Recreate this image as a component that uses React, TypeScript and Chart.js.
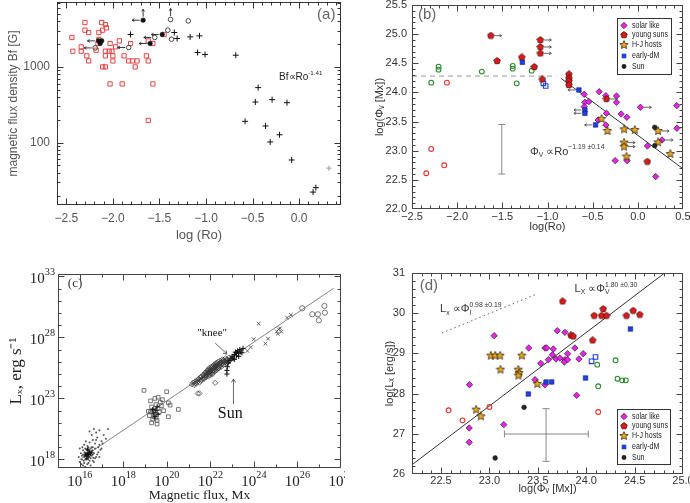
import React, { useEffect, useRef } from 'react';
import { Chart, registerables } from 'chart.js';

Chart.register(...registerables);

type P = [number, number];

// ================= Panel (a): log(Ro) vs magnetic flux density Bf [G] =================
const aXTicks = [-2.5, -2.0, -1.5, -1.0, -0.5, 0.0];
const aYTicks = [100, 1000];
const aRedSquares: P[] = [
  [-2.44, 2445], [-2.43, 1611], [-2.34, 1841], [-2.34, 1611], [-2.30, 3855], [-2.30, 3055], [-2.26, 2845],
  [-2.28, 1399], [-2.26, 1200], [-2.15, 2845], [-2.12, 3855], [-2.11, 3055], [-2.08, 3630], [-2.07, 3280],
  [-2.15, 2300], [-2.16, 2037], [-2.18, 1660], [-2.11, 1000], [-2.08, 1000], [-2.08, 1611], [-2.08, 1399],
  [-2.04, 1611], [-2.03, 2037], [-2.01, 1611], [-2.00, 1399], [-2.00, 1200], [-1.97, 1841], [-1.93, 2208],
  [-1.88, 1399], [-1.83, 1200], [-1.81, 2037], [-1.79, 1200], [-1.76, 1000], [-1.74, 1200], [-2.03, 596],
  [-1.90, 596], [-1.57, 596], [-1.62, 197], [-1.64, 1399], [-1.62, 1200], [-1.62, 2208], [-1.57, 2037],
  [-1.45, 2680],
];
const aPlus: P[] = [
  [-1.81, 2680], [-1.34, 2845], [-1.31, 2371], [-1.17, 2494], [-1.07, 2571], [-1.09, 1549], [-1.01, 1456],
  [-0.68, 1426], [-0.44, 533], [-0.47, 344], [-0.29, 370], [-0.13, 337], [-0.58, 191], [-0.36, 166],
  [-0.31, 102], [-0.21, 127], [-0.08, 59], [0.15, 22.2], [0.18, 25.4],
];
const aPlusFaint: P[] = [[0.32, 46]];
const aOpenCircles: P[] = [
  [-1.38, 4230], [-1.19, 4055], [-1.41, 3055], [-1.37, 2323], [-1.55, 2450], [-1.83, 1803], [-2.19, 1782],
];
const aFilledCircles: P[] = [
  [-1.675, 4140], [-2.155, 2208], [-2.12, 2208], [-2.137, 2037], [-1.60, 2037], [-1.47, 2680],
];
const aArrowLeft: P[] = [
  [-1.675, 4140], [-2.155, 2208], [-1.60, 2037], [-1.47, 2680], [-1.55, 2450], [-1.83, 1803], [-2.19, 1782],
];
const aArrowUp: P[] = [[-1.675, 4140], [-1.38, 4230]];

// ================= Panel (b): log(Ro) vs log(Phi_V) =================
const bXTicks = [-2.5, -2.0, -1.5, -1.0, -0.5, 0.0, 0.5];
const bYTicks = [22.0, 22.5, 23.0, 23.5, 24.0, 24.5, 25.0, 25.5];
const bSolar: P[] = [
  [-0.594, 23.968], [-0.586, 23.83], [-0.542, 23.842], [-0.594, 23.756], [-0.428, 24.013], [-0.354, 23.945],
  [-0.236, 23.939], [-0.236, 23.83], [-0.347, 23.642], [-0.439, 23.527], [-0.354, 23.442], [-0.185, 23.63],
  [-0.122, 23.573], [0.029, 23.745], [0.43, 23.773], [0.433, 23.385], [0.106, 23.082], [0.268, 23.184],
  [0.198, 22.556], [-0.251, 22.83], [-0.119, 22.83],
];
const bYoung: P[] = [
  [-1.628, 24.974], [-1.558, 24.54], [-1.285, 24.602], [-1.146, 24.437], [-1.079, 24.9], [-1.079, 24.78],
  [-1.079, 24.671], [-1.057, 24.225], [-0.763, 24.311], [-0.763, 24.242], [-0.763, 24.196], [-0.763, 24.128],
  [-0.347, 23.888], [0.106, 22.813],
];
const bHJ: P[] = [
  [-0.402, 23.545], [-0.336, 23.339], [-0.152, 23.367], [-0.034, 23.356], [-0.152, 23.139], [-0.152, 23.07],
  [-0.126, 22.899], [0.224, 23.339], [0.224, 23.144], [0.36, 22.944],
];
const bEarlyDM: P[] = [[-1.278, 24.517], [-0.652, 24.042], [-0.586, 23.699], [-0.586, 23.642], [-0.468, 23.442]];
const bEarlyDMOpen: P[] = [[-1.046, 24.156], [-1.02, 24.111]];
const bSun: P[] = [[0.187, 23.402], [0.187, 23.087]];
const bGreen: P[] = [
  [-2.206, 24.442], [-2.206, 24.391], [-2.287, 24.168], [-1.727, 24.357], [-1.385, 24.454], [-1.385, 24.408],
  [-1.341, 24.156], [-1.175, 24.374],
];
const bRedOpen: P[] = [[-2.114, 24.168], [-2.287, 23.03], [-2.143, 22.75], [-2.342, 22.613]];
const bArrowRight: P[] = [
  [-1.628, 24.974], [-1.079, 24.9], [-1.079, 24.78], [-1.079, 24.671], [-0.347, 23.888], [0.029, 23.745],
  [0.224, 23.339], [0.268, 23.184], [-0.152, 23.139], [-0.152, 23.07],
];
const bArrowLeft: P[] = [[-0.652, 24.042], [-0.586, 23.699], [-0.586, 23.642], [-0.468, 23.442]];
const bDashX = [-2.5, -0.9];
const bDashY = [24.28, 24.28];
const bFitX = [-0.85, 0.5];
const bFitY = [24.24, 22.69];
const bErr = { x: -1.506, low: 22.6, high: 23.45 };

// ================= Panel (c): magnetic flux vs Lx (exponents of 10) =================
const cXTicks = [16, 18, 20, 22, 24, 26, 28];
const cYTicks = [18, 23, 28, 33];
const cDots: P[] = [
  [16.0, 17.8], [16.1, 18.0], [16.15, 18.4], [16.2, 17.7], [16.2, 18.2], [16.25, 18.9], [16.3, 18.0], [16.3, 18.5],
  [16.35, 17.6], [16.35, 19.1], [16.4, 18.3], [16.4, 18.8], [16.45, 17.9], [16.45, 19.4], [16.5, 18.6], [16.5, 18.1],
  [16.55, 19.0], [16.6, 18.4], [16.6, 19.6], [16.65, 17.8], [16.7, 18.9], [16.7, 19.3], [16.75, 18.2], [16.8, 19.8],
  [16.85, 18.6], [16.9, 19.2], [17.0, 19.5], [17.1, 20.0], [16.05, 18.5], [16.12, 19.0], [16.28, 19.5], [16.38, 18.0],
  [16.42, 18.55], [16.33, 18.75], [16.48, 18.35], [16.22, 18.6], [16.58, 18.75], [16.18, 17.9], [16.62, 18.15],
  [16.95, 18.8], [16.75, 20.2], [16.55, 20.0], [15.95, 18.2], [16.3, 17.3], [16.5, 17.5],
  [16.1, 18.3], [16.15, 17.5], [16.2, 19.2], [16.25, 18.0], [16.3, 18.8], [16.35, 18.3], [16.4, 17.7], [16.4, 19.0],
  [16.45, 18.2], [16.5, 18.9], [16.55, 18.3], [16.6, 17.9], [16.6, 19.0], [16.65, 18.5], [16.7, 18.1], [16.75, 19.6],
  [16.8, 18.4], [16.85, 19.0], [16.9, 18.2], [17.0, 18.9], [17.05, 19.3], [17.2, 19.7], [16.0, 18.9], [16.08, 17.6],
  [16.25, 17.4], [16.45, 20.3], [16.65, 20.5], [16.9, 20.4], [17.3, 20.5], [16.15, 18.75],
];
const cDotsCore: P[] = [
  [16.3, 18.3], [16.35, 18.5], [16.4, 18.4], [16.45, 18.6], [16.38, 18.2], [16.28, 18.45], [16.5, 18.45],
  [16.42, 18.7], [16.32, 18.1], [16.25, 18.35], [16.55, 18.6], [16.36, 18.85],
];
const cSquares: P[] = [
  [18.95, 23.66], [19.99, 23.55], [20.53, 22.1], [20.07, 21.5], [20.07, 22.64], [20.15, 22.45], [19.2, 21.6],
  [19.25, 21.9], [19.3, 22.3], [19.35, 21.3], [19.4, 22.0], [19.45, 21.7], [19.5, 22.5], [19.55, 21.2],
  [19.6, 22.2], [19.65, 21.9], [19.7, 22.7], [19.3, 21.0], [19.45, 23.0], [19.6, 23.1], [19.75, 22.4],
  [19.4, 21.5], [19.55, 20.9], [19.8, 22.9], [19.25, 22.8], [19.5, 21.4], [19.85, 22.0], [19.15, 21.95],
];
const cSquareMarks: P[] = [[19.4, 21.8], [19.5, 22.0], [19.45, 21.5], [19.55, 22.3], [19.6, 21.7], [19.35, 22.1]];
const cDiamonds: P[] = [
  [21.15, 24.15], [21.25, 24.1], [21.3, 24.4], [21.4, 24.35], [21.45, 24.6], [21.5, 24.3], [21.55, 24.75],
  [21.6, 24.5], [21.65, 24.9], [21.7, 24.6], [21.75, 25.1], [21.75, 24.7], [21.8, 24.9], [21.85, 25.3],
  [21.9, 24.8], [21.9, 25.1], [21.95, 25.5], [22.0, 24.9], [22.0, 25.25], [22.05, 25.6], [22.1, 25.0],
  [22.1, 25.4], [22.15, 25.75], [22.2, 25.2], [22.2, 25.55], [22.25, 25.9], [22.3, 25.35], [22.3, 25.7],
  [22.35, 26.0], [22.4, 25.5], [22.4, 25.85], [22.45, 26.1], [22.5, 25.6], [22.5, 25.95], [22.55, 26.2],
  [22.6, 25.75], [22.65, 26.05], [22.7, 26.3], [22.75, 25.9], [22.8, 26.15], [22.85, 26.35], [22.9, 26.1],
  [21.35, 24.2], [21.95, 25.15], [22.15, 25.3], [22.35, 25.45], [22.6, 26.0], [22.05, 25.05], [21.85, 24.95],
  [22.25, 25.6], [21.42, 23.41], [21.5, 23.41], [22.22, 24.28],
  [21.2, 24.3], [21.3, 24.25], [21.4, 24.5], [21.5, 24.55], [21.55, 24.45], [21.6, 24.8], [21.65, 24.65],
  [21.7, 24.95], [21.75, 24.85], [21.8, 25.15], [21.8, 24.75], [21.85, 25.1], [21.9, 25.35], [21.95, 24.95],
  [22.0, 25.4], [22.0, 25.1], [22.05, 25.3], [22.1, 25.6], [22.1, 25.2], [22.15, 25.5], [22.2, 25.7],
  [22.2, 25.4], [22.25, 25.3], [22.3, 25.55], [22.3, 25.9], [22.35, 25.75], [22.4, 25.65], [22.45, 25.95],
  [22.45, 25.7], [22.5, 25.8], [22.55, 26.05], [22.55, 25.85], [22.6, 26.15], [22.65, 25.95], [22.7, 26.1],
  [22.75, 26.2], [22.8, 26.0], [21.9, 25.25], [22.05, 25.45], [22.25, 25.75],
];
const cPlus: P[] = [
  [22.76, 25.0], [22.76, 25.3], [22.78, 25.6], [22.82, 25.9], [22.9, 26.1], [22.95, 26.3], [23.0, 26.45],
  [23.05, 26.3], [23.1, 26.6], [23.15, 26.8], [23.2, 26.5], [23.25, 26.9], [23.3, 26.7], [23.35, 27.0],
  [23.4, 26.8], [23.45, 26.75], [23.1, 26.2], [23.2, 26.75], [23.3, 26.45], [23.5, 27.1],
];
const cCross: P[] = [
  [24.22, 29.13], [23.99, 27.85], [24.53, 27.49], [24.65, 27.9], [25.05, 28.5], [25.14, 28.67], [25.26, 28.47],
  [25.2, 28.75], [25.52, 29.62], [25.7, 29.85], [23.7, 26.9], [23.85, 27.2], [25.1, 28.3],
];
const cCircles: P[] = [[26.22, 30.39], [26.68, 29.9], [26.94, 29.9], [26.98, 29.4], [27.24, 30.58], [27.26, 30.03]];
const cFitX = [16.0, 27.67];
const cFitY = [17.99, 32.04];

// ================= Panel (d): log(Phi_V) vs log(Lx) =================
const dXTicks = [22.5, 23.0, 23.5, 24.0, 24.5, 25.0];
const dYTicks = [26, 27, 28, 29, 30, 31];
const dSolar: P[] = [
  [23.049, 29.441], [22.794, 28.222], [22.791, 27.144], [22.791, 26.788], [23.148, 27.227], [23.406, 29.134],
  [23.53, 28.753], [23.471, 28.347], [23.574, 29.134], [23.591, 29.134], [23.574, 28.222], [23.609, 28.844],
  [23.66, 29.109], [23.65, 28.968], [23.688, 28.861], [23.701, 29.565], [23.729, 28.886], [23.78, 29.524],
  [23.78, 28.844], [23.774, 28.786], [23.808, 28.993], [23.808, 28.844], [23.883, 29.134], [23.901, 27.957],
  [23.925, 28.861], [23.969, 28.993],
];
const dYoung: P[] = [
  [23.756, 30.295], [24.083, 29.939], [24.176, 30.104], [24.158, 29.939], [24.21, 29.939], [24.416, 29.939],
  [24.485, 30.063], [24.553, 29.963], [23.842, 29.449], [23.866, 29.424], [24.066, 29.325],
];
const dHJ: P[] = [
  [23.014, 28.944], [23.059, 28.944], [23.11, 28.944], [23.334, 28.944], [23.114, 28.595], [23.299, 28.595],
  [23.306, 28.512], [23.299, 28.446], [23.495, 28.239], [22.863, 27.6], [22.911, 27.434],
];
const dEarlyDM: P[] = [[23.402, 27.99], [23.585, 28.289], [23.643, 28.289], [23.993, 28.388], [24.457, 29.607]];
const dEarlyDMOpen: P[] = [[24.055, 28.803], [24.096, 28.91]];
const dGreen: P[] = [[24.114, 28.72], [24.124, 28.181], [24.303, 28.828], [24.323, 28.371], [24.371, 28.33], [24.409, 28.33]];
const dRedOpen: P[] = [[22.578, 27.584], [22.722, 27.335], [23.0, 27.667], [24.124, 27.542]];
const dSun: P[] = [[23.358, 27.658], [23.059, 26.398]];
const dFitX = [22.2, 24.81];
const dFitY = [26.23, 31.0];
const dDotX = [22.509, 23.488];
const dDotY = [29.507, 30.478];
const dErr = { cx: 23.585, cy: 26.995, xLow: 23.155, xHigh: 24.021, yLow: 26.315, yHigh: 27.625 };

const legendLabels = ['solar like', 'young suns', 'H-J hosts', 'early-dM', 'Sun'];

// ================= styling / helpers =================
const SANS = "'Liberation Sans', Arial, sans-serif";
const SERIF = "'Liberation Serif', 'Times New Roman', serif";
const MAGENTA = '#f020f0';
const RED = '#e41818';
const GOLD = '#eaa820';
const BLUE = '#2040e0';
const GREEN = '#2a8a2a';
const NONE = 'rgba(0,0,0,0)';

function makeShape(kind: string, size: number, fill: string, stroke: string) {
  const c = document.createElement('canvas');
  c.width = size; c.height = size;
  const g = c.getContext('2d')!;
  const cx = size / 2, cy = size / 2, R = size / 2 - 0.6;
  g.beginPath();
  const n = kind === 'pentagon' ? 5 : 10;
  for (let i = 0; i < n; i++) {
    const a = -Math.PI / 2 + (i * 2 * Math.PI) / n;
    const r = kind === 'pentagon' ? R : i % 2 === 0 ? R : R * 0.45;
    const x = cx + r * Math.cos(a), y = cy + r * Math.sin(a);
    if (i === 0) g.moveTo(x, y); else g.lineTo(x, y);
  }
  g.closePath();
  g.fillStyle = fill; g.fill();
  g.lineWidth = 0.8; g.strokeStyle = stroke; g.stroke();
  return c;
}
const pentImg = makeShape('pentagon', 8, RED, '#401010');
const starImg = makeShape('star', 10, GOLD, '#3a2a10');

const steps = (a: number, b: number, s: number) => {
  const out: number[] = [];
  for (let v = a; v <= b + 1e-9; v += s) out.push(+v.toFixed(4));
  return out;
};
const logMinor = (() => {
  const out: number[] = [];
  [10, 100, 1000].forEach((d) => { for (let k = 2; k <= 9; k++) out.push(k * d); });
  return out;
})();
const fmtSigned = (v: number) => (v < 0 ? '−' : '') + Math.abs(v).toFixed(1);

const pts = (a: P[]) => a.map(([x, y]) => ({ x, y }));
const lineData = (xs: number[], ys: number[]) => xs.map((x, i) => ({ x, y: ys[i] }));

function ds(data: any[], o: any) {
  return { data, pointHoverRadius: o.pointRadius, ...o };
}
function lineDs(data: any[], o: any) {
  return { data, showLine: true, pointRadius: 0, fill: false, borderWidth: 1, ...o };
}

function axis(o: any) {
  return {
    type: o.type || 'linear',
    position: o.position,
    min: o.min,
    max: o.max,
    grid: { display: false, drawTicks: false },
    border: { display: false },
    afterBuildTicks: (s: any) => { s.ticks = o.ticks.map((v: number) => ({ value: v })); },
    afterFit: (s: any) => {
      if (o.position === 'bottom') s.height = o.size; else s.width = o.size;
      s.paddingLeft = 0; s.paddingRight = 0; s.paddingTop = 0; s.paddingBottom = 0;
    },
    ticks: {
      display: o.showTicks !== false,
      autoSkip: false, maxRotation: 0, minRotation: 0, padding: o.pad,
      font: o.font, color: o.color, callback: (v: any) => o.fmt(Number(v)),
    },
    title: { display: true, text: o.title, font: o.titleFont, color: o.titleColor || o.color, padding: o.titlePad },
  };
}

function baseOptions(padding: any, x: any, y: any) {
  return {
    animation: false,
    responsive: false,
    devicePixelRatio: 1,
    events: [],
    layout: { padding, autoPadding: false },
    plugins: { legend: { display: false }, tooltip: { enabled: false }, title: { display: false } },
    scales: { x, y },
  };
}

function frame(ctx: any, chart: any, o: any) {
  const a = chart.chartArea;
  const X = chart.scales.x, Y = chart.scales.y;
  const l = Math.round(a.left) + 0.5, r = Math.round(a.right) - 0.5;
  const t = Math.round(a.top) + 0.5, b = Math.round(a.bottom) - 0.5;
  ctx.strokeStyle = o.color; ctx.lineWidth = 1;
  ctx.strokeRect(l, t, r - l, b - t);
  ctx.beginPath();
  const xt = (vals: number[], len: number) => vals.forEach((v) => {
    const p = Math.round(X.getPixelForValue(v)) + 0.5;
    if (p < l || p > r) return;
    ctx.moveTo(p, b); ctx.lineTo(p, b - len); ctx.moveTo(p, t); ctx.lineTo(p, t + len);
  });
  const yt = (vals: number[], len: number) => vals.forEach((v) => {
    const p = Math.round(Y.getPixelForValue(v)) + 0.5;
    if (p < t || p > b) return;
    ctx.moveTo(l, p); ctx.lineTo(l + len, p); ctx.moveTo(r, p); ctx.lineTo(r - len, p);
  });
  xt(o.xMajor, o.major); xt(o.xMinor, o.minor); yt(o.yMajor, o.major); yt(o.yMinor, o.minor);
  ctx.stroke();
}

function arrow(ctx: any, x0: number, y0: number, x1: number, y1: number, head = 2.6) {
  ctx.beginPath(); ctx.moveTo(x0, y0); ctx.lineTo(x1, y1); ctx.stroke();
  const ang = Math.atan2(y1 - y0, x1 - x0);
  ctx.beginPath();
  ctx.moveTo(x1 - head * Math.cos(ang - 0.55), y1 - head * Math.sin(ang - 0.55));
  ctx.lineTo(x1, y1);
  ctx.lineTo(x1 - head * Math.cos(ang + 0.55), y1 - head * Math.sin(ang + 0.55));
  ctx.stroke();
}

function pointArrows(ctx: any, chart: any, list: P[], dx: number, dy: number, color: string) {
  const X = chart.scales.x, Y = chart.scales.y;
  ctx.strokeStyle = color; ctx.lineWidth = 0.9;
  list.forEach(([vx, vy]) => {
    const x = X.getPixelForValue(vx), y = Y.getPixelForValue(vy);
    arrow(ctx, x + dx * 3.5, y + dy * 3.5, x + dx * 11, y + dy * 11);
  });
}

// segments: [text, mode] mode 0 normal, -1 subscript, 1 superscript, 2 superscript stacked over previous subscript
function richWidth(ctx: any, segs: [string, number][], size: number, family: string, ratio = 0.62) {
  let cx = 0, prevStart = 0;
  for (const [t, m] of segs) {
    ctx.font = `${m === 0 ? size : size * ratio}px ${family}`;
    const start = m === 2 ? prevStart : cx;
    const w = ctx.measureText(t).width;
    prevStart = start;
    cx = m === 2 ? Math.max(cx, start + w) : start + w;
  }
  return cx;
}
function rich(ctx: any, x: number, y: number, segs: [string, number][], size: number, family: string, color: string, ratio = 0.62, supRise = 0.4) {
  ctx.fillStyle = color; ctx.textBaseline = 'middle'; ctx.textAlign = 'left';
  let cx = x, prevStart = x;
  for (const [t, m] of segs) {
    const s = m === 0 ? size : size * ratio;
    ctx.font = `${s}px ${family}`;
    const start = m === 2 ? prevStart : cx;
    const dy = m === -1 ? size * 0.32 : m === 1 || m === 2 ? -size * supRise : 0;
    ctx.fillText(t, start, y + dy);
    const w = ctx.measureText(t).width;
    prevStart = start;
    cx = m === 2 ? Math.max(cx, start + w) : start + w;
  }
}

function text(ctx: any, s: string, x: number, y: number, size: number, family: string, color: string, align = 'left', sx = 1) {
  ctx.save();
  ctx.fillStyle = color; ctx.font = `${size}px ${family}`; ctx.textAlign = align; ctx.textBaseline = 'middle';
  ctx.translate(x, y); ctx.scale(sx, 1);
  ctx.fillText(s, 0, 0);
  ctx.restore();
}

function marker(ctx: any, kind: string, x: number, y: number) {
  ctx.save();
  if (kind === 'diamond') {
    ctx.beginPath(); ctx.moveTo(x, y - 3.2); ctx.lineTo(x + 3.2, y); ctx.lineTo(x, y + 3.2); ctx.lineTo(x - 3.2, y); ctx.closePath();
    ctx.fillStyle = MAGENTA; ctx.fill(); ctx.strokeStyle = '#222'; ctx.lineWidth = 0.7; ctx.stroke();
  } else if (kind === 'pentagon') {
    ctx.drawImage(pentImg, x - pentImg.width / 2, y - pentImg.height / 2);
  } else if (kind === 'star') {
    ctx.drawImage(starImg, x - starImg.width / 2, y - starImg.height / 2);
  } else if (kind === 'square') {
    ctx.fillStyle = BLUE; ctx.fillRect(x - 2.3, y - 2.3, 4.6, 4.6);
  } else {
    ctx.beginPath(); ctx.arc(x, y, 2.4, 0, Math.PI * 2); ctx.fillStyle = '#222'; ctx.fill();
  }
  ctx.restore();
}

function legendBox(ctx: any, x: number, y: number, w: number, h: number) {
  const kinds = ['diamond', 'pentagon', 'star', 'square', 'circle'];
  const rows = [7.5, 17, 27, 38, 48.5];
  ctx.fillStyle = '#fff'; ctx.fillRect(x, y, w, h);
  ctx.strokeStyle = '#333'; ctx.lineWidth = 1; ctx.strokeRect(Math.round(x) + 0.5, Math.round(y) + 0.5, w, h);
  legendLabels.forEach((lab, i) => {
    marker(ctx, kinds[i], x + 7, y + rows[i]);
    text(ctx, lab, x + 15, y + rows[i], 9, SANS, '#222', 'left', 0.78);
  });
}

function errorBar(ctx: any, X: any, Y: any, vertical: boolean, c: number, lo: number, hi: number, cap: number) {
  ctx.beginPath();
  if (vertical) {
    const x = X.getPixelForValue(c), y0 = Y.getPixelForValue(lo), y1 = Y.getPixelForValue(hi);
    ctx.moveTo(x, y0); ctx.lineTo(x, y1);
    ctx.moveTo(x - cap, y0); ctx.lineTo(x + cap, y0); ctx.moveTo(x - cap, y1); ctx.lineTo(x + cap, y1);
  } else {
    const y = Y.getPixelForValue(c), x0 = X.getPixelForValue(lo), x1 = X.getPixelForValue(hi);
    ctx.moveTo(x0, y); ctx.lineTo(x1, y);
    ctx.moveTo(x0, y - cap); ctx.lineTo(x0, y + cap); ctx.moveTo(x1, y - cap); ctx.lineTo(x1, y + cap);
  }
  ctx.stroke();
}

// power-of-ten tick labels (10 with raised exponent) for panel (c), positioned by the chart's scales
function powLabels(ctx: any, chart: any) {
  const X = chart.scales.x, Y = chart.scales.y, a = chart.chartArea;
  const size = 15;
  cXTicks.forEach((v) => {
    const segs: [string, number][] = [['10', 0], [String(v), 1]];
    const w = richWidth(ctx, segs, size, SERIF, 0.68);
    const px = X.getPixelForValue(v);
    rich(ctx, px - w / 2, a.bottom + 14, segs, size, SERIF, '#222', 0.68, 0.45);
  });
  cYTicks.forEach((v) => {
    const segs: [string, number][] = [['10', 0], [String(v), 1]];
    const w = richWidth(ctx, segs, size, SERIF, 0.68);
    const py = Y.getPixelForValue(v);
    rich(ctx, a.left - 3 - w, py + 3, segs, size, SERIF, '#222', 0.68, 0.45);
  });
}

// ================= chart configs =================
function configA(): any {
  const grey = '#555';
  return {
    type: 'scatter',
    data: {
      datasets: [
        ds(pts(aFilledCircles), { pointStyle: 'circle', pointRadius: 2.3, backgroundColor: '#111', borderColor: '#111', borderWidth: 0.5 }),
        ds(pts(aOpenCircles), { pointStyle: 'circle', pointRadius: 2.3, backgroundColor: NONE, borderColor: '#333', borderWidth: 0.9 }),
        ds(pts(aPlus), { pointStyle: 'cross', pointRadius: 3, borderColor: '#111', borderWidth: 1 }),
        ds(pts(aPlusFaint), { pointStyle: 'cross', pointRadius: 2.6, borderColor: '#999', borderWidth: 1 }),
        ds(pts(aRedSquares), { pointStyle: 'rect', pointRadius: 3, backgroundColor: NONE, borderColor: '#e84444', borderWidth: 1 }),
      ],
    },
    options: baseOptions(
      { left: 0, right: 4, top: 2, bottom: 0 },
      axis({ position: 'bottom', min: -2.6, max: 0.45, ticks: aXTicks, fmt: fmtSigned, size: 46, pad: 6,
        font: { family: SANS, size: 12 }, color: grey, title: 'log (Ro)', titleFont: { family: SANS, size: 13 }, titlePad: { top: 0, bottom: 8 } }),
      axis({ type: 'logarithmic', position: 'left', min: 15, max: 7200, ticks: aYTicks, fmt: (v: number) => String(v), size: 57, pad: 7,
        font: { family: SANS, size: 12 }, color: grey, title: 'magnetic flux density Bf [G]', titleFont: { family: SANS, size: 12 }, titlePad: { top: 6, bottom: 0 } }),
    ),
    plugins: [{
      id: 'decorA',
      afterDraw(chart: any) {
        const ctx = chart.ctx; const X = chart.scales.x, Y = chart.scales.y;
        ctx.save();
        frame(ctx, chart, { color: '#333', major: 6, minor: 3, xMajor: aXTicks, xMinor: steps(-2.6, 0.45, 0.1), yMajor: aYTicks, yMinor: logMinor });
        pointArrows(ctx, chart, aArrowLeft, -1, 0, '#222');
        pointArrows(ctx, chart, aArrowUp, 0, -1, '#222');
        text(ctx, '(a)', X.getPixelForValue(0.193), Y.getPixelForValue(4830), 15, SANS, '#666');
        rich(ctx, X.getPixelForValue(-0.215), Y.getPixelForValue(731), [['Bf∝Ro', 0], ['-1.41', 1]], 10, SANS, '#222');
        ctx.restore();
      },
    }],
  };
}

function configB(): any {
  const tc = '#333';
  return {
    type: 'scatter',
    data: {
      datasets: [
        ds(pts(bSun), { pointStyle: 'circle', pointRadius: 2.4, backgroundColor: '#222', borderColor: '#222', borderWidth: 0.5 }),
        ds(pts(bEarlyDM), { pointStyle: 'rect', pointRadius: 3.2, backgroundColor: BLUE, borderColor: '#102080', borderWidth: 0.6 }),
        ds(pts(bHJ), { pointStyle: starImg, pointRadius: 4 }),
        ds(pts(bYoung), { pointStyle: pentImg, pointRadius: 4 }),
        ds(pts(bSolar), { pointStyle: 'rectRot', pointRadius: 3.2, backgroundColor: MAGENTA, borderColor: '#222', borderWidth: 0.7 }),
        ds(pts(bEarlyDMOpen), { pointStyle: 'rect', pointRadius: 3.2, backgroundColor: NONE, borderColor: BLUE, borderWidth: 1.1 }),
        ds(pts(bGreen), { pointStyle: 'circle', pointRadius: 2.4, backgroundColor: NONE, borderColor: GREEN, borderWidth: 1.1 }),
        ds(pts(bRedOpen), { pointStyle: 'circle', pointRadius: 2.4, backgroundColor: NONE, borderColor: '#ee3030', borderWidth: 1.1 }),
        lineDs(lineData(bFitX, bFitY), { borderColor: '#333', borderWidth: 1 }),
        lineDs(lineData(bDashX, bDashY), { borderColor: '#999', borderWidth: 1, borderDash: [5, 4] }),
      ],
    },
    options: baseOptions(
      { left: 0, right: 7, top: 5, bottom: 0 },
      axis({ position: 'bottom', min: -2.5, max: 0.5, ticks: bXTicks, fmt: fmtSigned, size: 42, pad: 1,
        font: { family: SANS, size: 11 }, color: tc, title: 'log(Ro)', titleFont: { family: SANS, size: 11 }, titlePad: { top: 0, bottom: 17.7 } }),
      axis({ position: 'left', min: 22, max: 25.5, ticks: bYTicks, fmt: (v: number) => v.toFixed(1), size: 67, pad: 5,
        font: { family: SANS, size: 11 }, color: tc, title: 'log(Φᵥ [Mx])', titleFont: { family: SANS, size: 11 }, titlePad: { top: 28.5, bottom: 0 } }),
    ),
    plugins: [{
      id: 'decorB',
      afterDraw(chart: any) {
        const ctx = chart.ctx; const X = chart.scales.x, Y = chart.scales.y; const a = chart.chartArea;
        ctx.save();
        ctx.strokeStyle = '#888'; ctx.lineWidth = 1;
        errorBar(ctx, X, Y, true, bErr.x, bErr.low, bErr.high, 3.5);
        pointArrows(ctx, chart, bArrowRight, 1, 0, '#555');
        pointArrows(ctx, chart, bArrowLeft, -1, 0, '#555');
        frame(ctx, chart, { color: '#444', major: 6, minor: 3, xMajor: bXTicks, xMinor: steps(-2.5, 0.5, 0.1), yMajor: bYTicks, yMinor: steps(22, 25.5, 0.1) });
        text(ctx, '(b)', X.getPixelForValue(-2.434), Y.getPixelForValue(25.33), 15, SANS, '#666');
        rich(ctx, X.getPixelForValue(-1.195), Y.getPixelForValue(22.98), [['Φ', 0], ['V', -1], [' ∝Ro', 0], ['−1.19 ±0.14', 1]], 11, SANS, '#333');
        legendBox(ctx, a.right - 66, a.top + 13, 54, 56);
        ctx.restore();
      },
    }],
  };
}

function configC(): any {
  const tc = '#222';
  return {
    type: 'scatter',
    data: {
      datasets: [
        ds(pts(cPlus), { pointStyle: 'cross', pointRadius: 2.6, borderColor: '#111', borderWidth: 1 }),
        ds(pts(cCross), { pointStyle: 'crossRot', pointRadius: 2.6, borderColor: '#555', borderWidth: 0.9 }),
        ds(pts(cCircles), { pointStyle: 'circle', pointRadius: 2.6, backgroundColor: NONE, borderColor: '#555', borderWidth: 0.8 }),
        ds(pts(cDiamonds), { pointStyle: 'rectRot', pointRadius: 2.6, backgroundColor: NONE, borderColor: '#333', borderWidth: 0.7 }),
        ds(pts(cSquareMarks), { pointStyle: 'cross', pointRadius: 2.4, borderColor: '#111', borderWidth: 1 }),
        ds(pts(cSquares), { pointStyle: 'rect', pointRadius: 2.6, backgroundColor: NONE, borderColor: '#555', borderWidth: 0.8 }),
        ds(pts(cDotsCore), { pointStyle: 'cross', pointRadius: 1.8, borderColor: '#111', borderWidth: 1 }),
        ds(pts(cDots), { pointStyle: 'circle', pointRadius: 1, backgroundColor: '#555', borderColor: '#555', borderWidth: 0 }),
        lineDs(lineData(cFitX, cFitY), { borderColor: '#666', borderWidth: 0.8 }),
      ],
    },
    options: baseOptions(
      { left: 0, right: 4, top: 23, bottom: 0 },
      axis({ position: 'bottom', min: 15, max: 28, ticks: cXTicks, fmt: (v: number) => '10^' + v, showTicks: false, size: 35, pad: 5,
        font: { family: SERIF, size: 15 }, color: tc, title: 'Magnetic flux, Mx', titleFont: { family: SERIF, size: 13.5, lineHeight: 1 }, titlePad: { top: 0, bottom: 1 } }),
      axis({ position: 'left', min: 17.3, max: 33.2, ticks: cYTicks, fmt: (v: number) => '10^' + v, showTicks: false, size: 58, pad: 3,
        font: { family: SERIF, size: 15 }, color: tc, title: 'Lₓ, erg s⁻¹', titleFont: { family: SERIF, size: 17, lineHeight: 1 }, titlePad: { top: 8.2, bottom: 0 } }),
    ),
    plugins: [{
      id: 'decorC',
      afterDraw(chart: any) {
        const ctx = chart.ctx; const X = chart.scales.x, Y = chart.scales.y;
        ctx.save();
        frame(ctx, chart, { color: '#444', major: 6, minor: 3, xMajor: cXTicks, xMinor: steps(15, 28, 1), yMajor: cYTicks, yMinor: steps(18, 33, 1) });
        powLabels(ctx, chart);
        text(ctx, '(c)', X.getPixelForValue(15.45), Y.getPixelForValue(32.39), 13, SERIF, '#333');
        text(ctx, '"knee"', X.getPixelForValue(22.08), Y.getPixelForValue(28.37), 11, SERIF, '#111', 'center');
        text(ctx, 'Sun', X.getPixelForValue(22.91), Y.getPixelForValue(21.72), 16, SERIF, '#111', 'center');
        ctx.strokeStyle = '#444'; ctx.lineWidth = 0.8;
        arrow(ctx, X.getPixelForValue(22.22), Y.getPixelForValue(27.54), X.getPixelForValue(22.76), Y.getPixelForValue(26.64), 4);
        arrow(ctx, X.getPixelForValue(23.06), Y.getPixelForValue(22.54), X.getPixelForValue(23.06), Y.getPixelForValue(24.59), 4);
        ctx.restore();
      },
    }],
  };
}

function configD(): any {
  const tc = '#333';
  return {
    type: 'scatter',
    data: {
      datasets: [
        ds(pts(dSun), { pointStyle: 'circle', pointRadius: 2.4, backgroundColor: '#222', borderColor: '#222', borderWidth: 0.5 }),
        ds(pts(dEarlyDM), { pointStyle: 'rect', pointRadius: 3.2, backgroundColor: BLUE, borderColor: '#102080', borderWidth: 0.6 }),
        ds(pts(dHJ), { pointStyle: starImg, pointRadius: 4 }),
        ds(pts(dYoung), { pointStyle: pentImg, pointRadius: 4 }),
        ds(pts(dSolar), { pointStyle: 'rectRot', pointRadius: 3.2, backgroundColor: MAGENTA, borderColor: '#222', borderWidth: 0.7 }),
        ds(pts(dEarlyDMOpen), { pointStyle: 'rect', pointRadius: 3.2, backgroundColor: NONE, borderColor: BLUE, borderWidth: 1.1 }),
        ds(pts(dGreen), { pointStyle: 'circle', pointRadius: 2.4, backgroundColor: NONE, borderColor: GREEN, borderWidth: 1.1 }),
        ds(pts(dRedOpen), { pointStyle: 'circle', pointRadius: 2.4, backgroundColor: NONE, borderColor: '#ee3030', borderWidth: 1.1 }),
        lineDs(lineData(dFitX, dFitY), { borderColor: '#333', borderWidth: 1 }),
        lineDs(lineData(dDotX, dDotY), { borderColor: '#666', borderWidth: 1, borderDash: [1.5, 3] }),
      ],
    },
    options: baseOptions(
      { left: 0, right: 7, top: 22, bottom: 0 },
      axis({ position: 'bottom', min: 22.2, max: 25.0, ticks: dXTicks, fmt: (v: number) => v.toFixed(1), size: 29, pad: 0.5,
        font: { family: SANS, size: 11 }, color: tc, title: 'log(Φᵥ [Mx])', titleFont: { family: SANS, size: 11 }, titlePad: { top: 0, bottom: 7 } }),
      axis({ position: 'left', min: 26, max: 31, ticks: dYTicks, fmt: (v: number) => String(v), size: 67, pad: 7,
        font: { family: SANS, size: 11 }, color: tc, title: 'log(Lₓ [erg/s])', titleFont: { family: SANS, size: 11 }, titlePad: { top: 38.4, bottom: 0 } }),
    ),
    plugins: [{
      id: 'decorD',
      afterDraw(chart: any) {
        const ctx = chart.ctx; const X = chart.scales.x, Y = chart.scales.y; const a = chart.chartArea;
        ctx.save();
        ctx.strokeStyle = '#888'; ctx.lineWidth = 1;
        errorBar(ctx, X, Y, false, dErr.cy, dErr.xLow, dErr.xHigh, 3.5);
        errorBar(ctx, X, Y, true, dErr.cx, dErr.yLow, dErr.yHigh, 3.5);
        frame(ctx, chart, { color: '#444', major: 6, minor: 3, xMajor: dXTicks, xMinor: steps(22.2, 25.0, 0.1), yMajor: dYTicks, yMinor: steps(26, 31, 0.2) });
        text(ctx, '(d)', X.getPixelForValue(22.28), Y.getPixelForValue(30.68), 15, SANS, '#666');
        rich(ctx, X.getPixelForValue(23.88), Y.getPixelForValue(30.6), [['L', 0], ['X', -1], [' ∝Φ', 0], ['V', -1], ['1.80 ±0.30', 2]], 11, SANS, '#333');
        rich(ctx, X.getPixelForValue(22.49), Y.getPixelForValue(30.1), [['L', 0], ['x', -1], [' ∝Φ', 0], ['I', -1], ['0.98 ±0.19', 2]], 11, SANS, '#333');
        legendBox(ctx, a.right - 66, a.bottom - 65, 53, 55);
        ctx.restore();
      },
    }],
  };
}

function Panel({ make, left, top, width, height }: any) {
  const ref = useRef<HTMLCanvasElement>(null);
  useEffect(() => {
    const chart = new Chart(ref.current as HTMLCanvasElement, make());
    return () => chart.destroy();
  }, [make]);
  return (
    <canvas ref={ref} width={width} height={height} style={{ position: 'absolute', left, top, width, height }} />
  );
}

export default function App() {
  return (
    <div style={{ position: 'fixed', left: 0, top: 0, width: 690, height: 503, background: '#fff', overflow: 'hidden' }}>
      <Panel make={configA} left={0} top={0} width={345} height={251} />
      <Panel make={configB} left={345} top={0} width={345} height={251} />
      <Panel make={configC} left={0} top={251} width={345} height={252} />
      <Panel make={configD} left={345} top={251} width={345} height={252} />
    </div>
  );
}
